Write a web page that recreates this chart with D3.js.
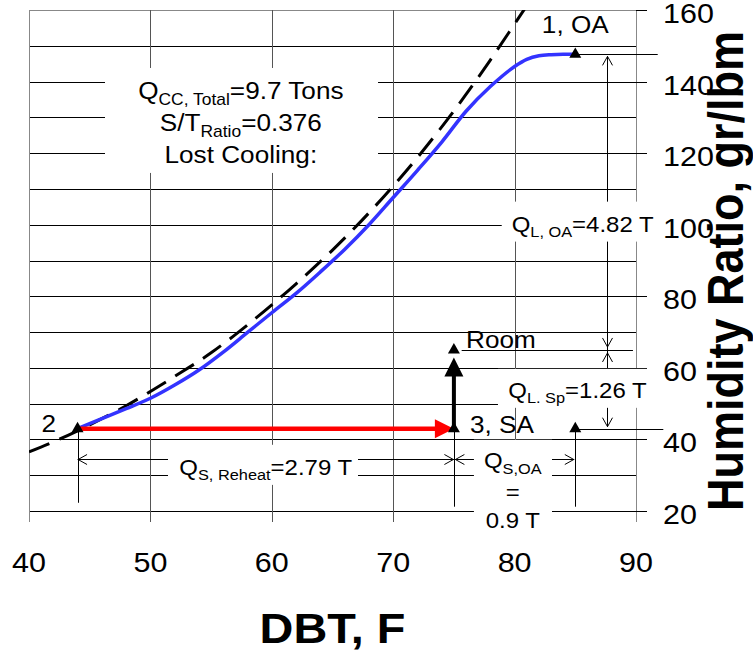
<!DOCTYPE html>
<html><head><meta charset="utf-8">
<script src="https://cdn.jsdelivr.net/npm/d3@7"></script>
<style>html,body{margin:0;padding:0;background:#fff;} svg{display:block;}</style>
</head><body>
<svg id="chart" width="753" height="654"></svg>
<script>
// ---------------- data ----------------
const xTicks = [40, 50, 60, 70, 80, 90];
const yTicks = [20, 40, 60, 80, 100, 120, 140, 160];
// saturation curve (100% RH), DBT F -> grains/lbm
const satDBT = [40, 42, 44, 46, 48, 50, 52, 55, 58, 60, 62, 65, 68, 70, 72, 75, 78, 80, 81];
const satW   = [36.5, 39.3, 42.4, 45.8, 49.4, 53.4, 57.6, 64.2, 72.0, 77.6, 83.5, 92.9, 103.3, 110.8, 118.8, 131.8, 146.0, 156.1, 161.2];
// cooling coil process line
const coilDBT = [44, 46, 48, 50, 52, 54, 56, 58, 60, 62, 64, 66, 68, 70, 72, 74, 76, 78, 80, 81, 82, 83, 84, 85];
const coilW   = [43, 45.8, 48.6, 51.5, 55.2, 59.4, 64.4, 69.9, 75.4, 80.8, 86.8, 93.1, 100.0, 107.6, 115.2, 123.1, 131.7, 138.6, 144.2, 146.2, 147.2, 147.5, 147.6, 147.6];
// state points
const stateNames = ["1, OA", "2", "3, SA", "Room"];
const stateDBT   = [85, 44, 75, 75];
const stateW     = [147.6, 43, 43, 65];
// reference point (OA dry bulb at supply humidity)
const refDBT = [85];
const refW   = [43];
// text
const summaryLines = [
  [["Q", false], ["CC, Total", true], ["=9.7 Tons", false]],
  [["S/T", false], ["Ratio", true], ["=0.376", false]],
  [["Lost Cooling:", false]]
];
const qlOA    = [["Q", false], ["L, OA", true], ["=4.82 T", false]];
const qlSp    = [["Q", false], ["L. Sp", true], ["=1.26 T", false]];
const qsReheat= [["Q", false], ["S, Reheat", true], ["=2.79 T", false]];
const qsOA    = [["Q", false], ["S,OA", true]];
const qsOAval = ["=", "0.9 T"];
const xTitle = "DBT, F";
const yTitle = "Humidity Ratio, gr/lbm";

// ---------------- setup ----------------
const FONT = "'Liberation Sans', Arial, Helvetica, sans-serif";
const SX = 1.09;
const svg = d3.select("#chart");
const x = d3.scaleLinear().domain([40, 90]).range([29, 636]);
const y = d3.scaleLinear().domain([20, 160]).range([511, 10]);
const snap = v => Math.round(v) + 0.5;

// grid
const gGrid = svg.append("g");
gGrid.selectAll("line.h").data(d3.range(20, 161, 10)).join("line").attr("class", "h")
  .attr("x1", x(40)).attr("x2", x(90))
  .attr("y1", d => snap(y(d))).attr("y2", d => snap(y(d)))
  .attr("stroke", d => d === 160 ? "#888" : "#000").attr("stroke-width", 1);
gGrid.selectAll("line.v").data(xTicks).join("line").attr("class", "v")
  .attr("x1", d => snap(x(d))).attr("x2", d => snap(x(d)))
  .attr("y1", y(160)).attr("y2", y(20) + 11)
  .attr("stroke", d => (d === 40 || d === 90) ? "#888" : "#555").attr("stroke-width", 1);
gGrid.selectAll("line.rt").data(yTicks).join("line").attr("class", "rt")
  .attr("x1", x(90)).attr("x2", x(90) + 11)
  .attr("y1", d => snap(y(d))).attr("y2", d => snap(y(d)))
  .attr("stroke", "#000").attr("stroke-width", 1);

// clip
svg.append("clipPath").attr("id", "plotclip").append("rect")
  .attr("x", x(40)).attr("y", y(160)).attr("width", x(90) - x(40)).attr("height", y(20) - y(160));

const lineGen = d3.line().x(d => x(d[0])).y(d => y(d[1])).curve(d3.curveMonotoneX);
const gCurves = svg.append("g").attr("clip-path", "url(#plotclip)");
gCurves.append("path").datum(satDBT.map((d, i) => [d, satW[i]]))
  .attr("d", lineGen).attr("fill", "none").attr("stroke", "#000")
  .attr("stroke-width", 3).attr("stroke-dasharray", "22,11");
gCurves.append("path").datum(coilDBT.map((d, i) => [d, coilW[i]]))
  .attr("d", lineGen).attr("fill", "none").attr("stroke", "#3333ff")
  .attr("stroke-width", 3.5).attr("stroke-linejoin", "round");

// ---------------- dimension lines ----------------
const gDim = svg.append("g").attr("stroke", "#000").attr("stroke-width", 1).attr("fill", "none");
function seg(x1, y1, x2, y2) { gDim.append("line").attr("x1", x1).attr("y1", y1).attr("x2", x2).attr("y2", y2); }
function chev(px, py, dir) {
  const L = 9, Wd = 5;
  let d;
  if (dir === "up") d = `M${px - Wd},${py + L}L${px},${py}L${px + Wd},${py + L}`;
  if (dir === "down") d = `M${px - Wd},${py - L}L${px},${py}L${px + Wd},${py - L}`;
  if (dir === "left") d = `M${px + L},${py - Wd}L${px},${py}L${px + L},${py + Wd}`;
  if (dir === "right") d = `M${px - L},${py - Wd}L${px},${py}L${px - L},${py + Wd}`;
  gDim.append("path").attr("d", d);
}
const OA = 0, P2 = 1, SA = 2, RM = 3;
// vertical latent dimension
const xDim = snap(x(87.6));
seg(xDim, y(stateW[OA]) + 2, xDim, y(stateW[SA]) - 2);
chev(xDim, y(stateW[OA]) + 2, "up");
chev(xDim, y(stateW[RM]) - 3, "down");
chev(xDim, y(stateW[RM]) + 3, "up");
chev(xDim, y(stateW[SA]) - 2, "down");
// level lines
seg(x(stateDBT[OA]), snap(y(stateW[OA])), x(91.79), snap(y(stateW[OA])));
seg(x(75.64), snap(y(stateW[RM])), x(89.75), snap(y(stateW[RM])));
seg(x(refDBT[0]), snap(y(refW[0])), x(92.25), snap(y(refW[0])));
// horizontal sensible dimension
const yDim = snap(y(34.5));
seg(x(stateDBT[P2]), yDim, x(refDBT[0]) - 1, yDim);
chev(x(stateDBT[P2]) + 0.5, yDim, "left");
chev(x(stateDBT[SA]) - 0.5, yDim, "right");
chev(x(stateDBT[SA]) + 1.5, yDim, "left");
chev(x(refDBT[0]) - 1.5, yDim, "right");
// extension lines
seg(snap(x(stateDBT[P2])), y(stateW[P2]), snap(x(stateDBT[P2])), y(22.3));
seg(snap(x(stateDBT[SA])), y(stateW[SA]), snap(x(stateDBT[SA])), y(21.2));
seg(snap(x(refDBT[0])), y(refW[0]), snap(x(refDBT[0])), y(21.2));

// ---------------- white boxes ----------------
const boxes = [
  [46.26, 68.75, 114.47, 143.8],
  [78.94, 91.55, 95.28, 106.45],
  [78.63, 91.32, 48.83, 59.72],
  [51.45, 67.1, 27.3, 38.5],
  [76.65, 83.08, 13.3, 39.9]
];
svg.append("g").selectAll("rect").data(boxes).join("rect")
  .attr("x", d => x(d[0])).attr("width", d => x(d[1]) - x(d[0]))
  .attr("y", d => y(d[3])).attr("height", d => y(d[2]) - y(d[3]))
  .attr("fill", "#fff");

// ---------------- text ----------------
const gText = svg.append("g");
function rich(px, py, parts, size, sub, dy, anchor, weight) {
  const g = gText.append("g").attr("transform", `translate(${px},${py}) scale(${SX},1)`);
  const t = g.append("text").attr("font-family", FONT).attr("font-size", size)
    .attr("text-anchor", anchor || "start").attr("fill", "#000").attr("font-weight", weight || "normal");
  let shifted = false;
  parts.forEach(([s, isSub]) => {
    const ts = t.append("tspan").text(s);
    if (isSub) { ts.attr("font-size", sub).attr("dy", dy); shifted = true; }
    else if (shifted) { ts.attr("dy", -dy); shifted = false; }
  });
  return t;
}
const sumBase = [135.05, 126.2, 117.2];
summaryLines.forEach((ln, i) => rich(x(57.45), y(sumBase[i]), ln, 24, 16, 6, "middle"));
rich(x(79.76), y(98.07), qlOA, 22, 15, 5, "start");
rich(x(79.48), y(51.54), qlSp, 22, 15, 5, "start");
rich(x(59.5), y(30.1), qsReheat, 22, 15, 5, "middle");
rich(x(79.85), y(31.98), qsOA, 22, 15, 6, "middle");
rich(x(79.85), y(23.1), [[qsOAval[0], false]], 22, 15, 5, "middle");
rich(x(79.85), y(15.2), [[qsOAval[1], false]], 22, 15, 5, "middle");
// state labels
const labelPos = [
  { px: x(stateDBT[OA]), py: y(153.5), anchor: "middle" },
  { px: x(42.22), py: y(42.2), anchor: "end" },
  { px: x(76.33), py: y(41.7), anchor: "start" },
  { px: x(76.0), py: y(65.6), anchor: "start" }
];
stateNames.forEach((n, i) => rich(labelPos[i].px, labelPos[i].py, [[n, false]], 24, 16, 5, labelPos[i].anchor));

// tick labels
xTicks.forEach(d => rich(x(d), 571.7, [[String(d), false]], 28, 18, 0, "middle"));
yTicks.forEach(d => rich(663, y(d) + 13, [[String(d), false]], 28, 18, 0, "start"));
// axis titles
rich((x(40) + x(90)) / 2, 643, [[xTitle, false]], 43, 30, 0, "middle", "bold");
const gy = gText.append("g").attr("transform", `translate(743,271) scale(${SX},1) rotate(-90)`);
gy.append("text").attr("font-family", FONT).attr("font-size", 45).attr("font-weight", "bold")
  .attr("text-anchor", "middle").attr("fill", "#000").text(yTitle);

// ---------------- process arrows ----------------
const gArr = svg.append("g");
// reheat (red): 2 -> 3
{
  const x0 = x(stateDBT[P2]), x1 = x(stateDBT[SA]), yy = y(stateW[SA]);
  const hl = 19, hw = 9.5;
  gArr.append("line").attr("x1", x0).attr("x2", x1 - hl + 1).attr("y1", yy).attr("y2", yy)
    .attr("stroke", "#ff0000").attr("stroke-width", 4.5);
  gArr.append("path").attr("d", `M${x1},${yy}L${x1 - hl},${yy - hw}L${x1 - hl},${yy + hw}Z`).attr("fill", "#ff0000");
}
// latent (black): 3 -> Room
{
  const xx = x(stateDBT[SA]), y0 = y(stateW[SA]), tip = y(stateW[RM]) + 7.5;
  const hl = 19, hw = 9.5;
  gArr.append("line").attr("x1", xx).attr("x2", xx).attr("y1", y0).attr("y2", tip + hl - 1)
    .attr("stroke", "#000").attr("stroke-width", 4);
  gArr.append("path").attr("d", `M${xx},${tip}L${xx - hw},${tip + hl}L${xx + hw},${tip + hl}Z`).attr("fill", "#000");
}

// markers
const tri = d3.symbol(d3.symbolTriangle, 62);
const markerData = stateDBT.map((d, i) => [d, stateW[i]]).concat(refDBT.map((d, i) => [d, refW[i]]));
svg.append("g").selectAll("path").data(markerData).join("path")
  .attr("d", tri).attr("transform", d => `translate(${x(d[0])},${y(d[1])})`).attr("fill", "#000");
</script>
</body></html>
